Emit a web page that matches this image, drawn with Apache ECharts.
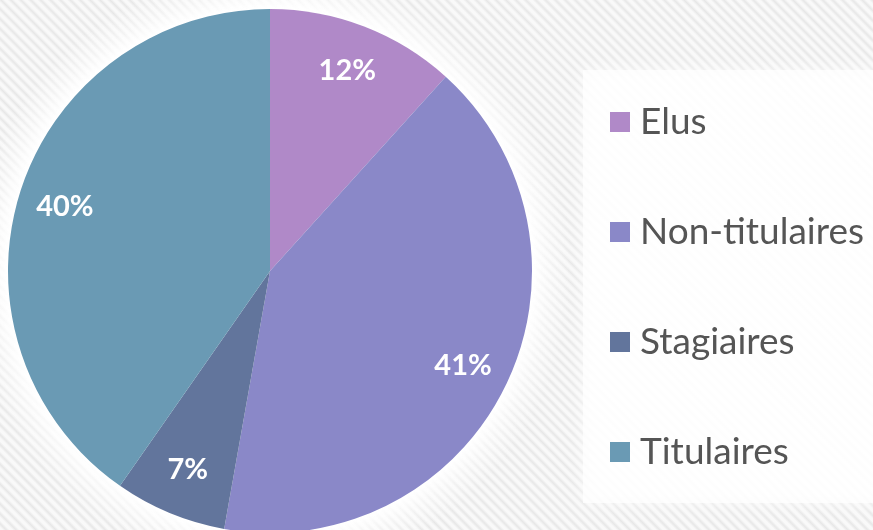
<!DOCTYPE html>
<html>
<head>
<meta charset="utf-8">
<script src="https://cdn.jsdelivr.net/npm/echarts@6/dist/echarts.min.js"></script>
<style>
html,body{margin:0;padding:0;}
#chart{width:873px;height:530px;
background: repeating-linear-gradient(45deg, #f9f9f9 0px, #f9f9f9 2px, #e7e7e7 4.5px, #f9f9f9 7px);}
</style>
</head>
<body>
<div id="chart"></div>
<script>
const categories = ['Elus', 'Non-titulaires', 'Stagiaires', 'Titulaires'];
const values = [11.7, 41.1, 6.9, 40.3];
const labels = ['12%', '41%', '7%', '40%'];
const colors = ['#b089c8', '#8a88c8', '#62759c', '#6a9ab4'];

const chart = echarts.init(document.getElementById('chart'), null, {renderer: 'canvas'});
const data = categories.map((c, i) => ({name: c, value: values[i], itemStyle: {color: colors[i]}}));
const center = [270, 271];
const R = 262;
const G = 40;

chart.setOption({
  animation: false,
  backgroundColor: 'transparent',
  legend: {
    orient: 'vertical',
    left: 583,
    top: 70,
    padding: [32, 30, 31, 27],
    backgroundColor: 'rgba(255,255,255,0.72)',
    shadowBlur: 16,
    shadowColor: 'rgba(255,255,255,0.9)',
    itemWidth: 20,
    itemHeight: 20,
    itemGap: 70,
    icon: 'rect',
    data: categories,
    textStyle: {
      fontFamily: 'Lato',
      fontSize: 37,
      lineHeight: 40,
      color: '#555555',
      padding: [0, 0, 0, 5]
    }
  },
  series: [
    {
      type: 'pie',
      silent: true,
      center: center,
      radius: [0, R + G],
      label: {show: false},
      labelLine: {show: false},
      itemStyle: {
        color: {
          type: 'radial', x: 0.5, y: 0.5, r: 0.5,
          colorStops: [
            {offset: 0, color: 'rgba(255,255,255,1)'},
            {offset: R / (R + G), color: 'rgba(255,255,255,1)'},
            {offset: (R + G * 0.4) / (R + G), color: 'rgba(255,255,255,0.5)'},
            {offset: 1, color: 'rgba(255,255,255,0)'}
          ]
        }
      },
      data: [{name: '_glow', value: 1}],
      legendHoverLink: false
    },
    {
      type: 'pie',
      center: center,
      radius: [0, R],
      startAngle: 90,
      label: {show: false},
      labelLine: {show: false},
      data: data
    },
    {
      type: 'pie',
      silent: true,
      center: center,
      radius: [162, R],
      startAngle: 90,
      itemStyle: {color: 'rgba(0,0,0,0)'},
      label: {
        show: true,
        position: 'inside',
        formatter: p => labels[p.dataIndex],
        color: '#ffffff',
        fontFamily: 'Lato',
        fontWeight: 'bold',
        fontSize: 29
      },
      labelLine: {show: false},
      data: categories.map((c, i) => ({name: c + ' ', value: values[i]}))
    }
  ]
});
</script>
</body>
</html>
